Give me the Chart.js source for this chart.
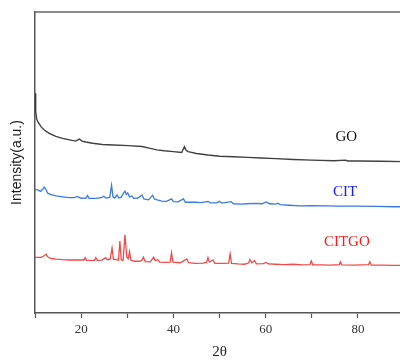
<!DOCTYPE html>
<html>
<head>
<meta charset="utf-8">
<script src="https://cdn.jsdelivr.net/npm/chart.js@4/dist/chart.umd.min.js"></script>
<style>
html,body{margin:0;padding:0;overflow:hidden;background:#fff;width:400px;height:360px;}
#wrap{width:408px;height:360px;position:relative;}
</style>
</head>
<body>
<div id="wrap"><canvas id="c" width="408" height="360"></canvas></div>
<script>
// 2θ positions and intensities (a.u., arbitrary offset scale 0-100)
const goX = [10.0,10.15,10.35,10.7,11.3,12.0,13.1,14.5,16.0,17.5,18.8,19.6,20.2,21.0,22.5,24.6,27.0,30.3,33.2,35.0,36.4,38.0,40.0,41.8,42.4,42.8,43.2,45.0,47.5,50.0,53.0,56.1,59.0,62.2,66.0,70.0,74.8,77.3,77.8,80.0,85.0,90.0];
const goY = [73.0,67.0,64.5,63.3,61.9,60.8,59.7,58.7,58.0,57.5,57.1,57.8,57.1,56.8,56.4,56.0,55.8,55.6,55.3,54.7,54.2,53.9,53.6,53.3,55.3,54.0,53.6,53.0,52.5,52.1,51.9,51.7,51.5,51.3,51.0,50.8,50.6,50.8,50.5,50.5,50.4,50.3];

const citX = [10.0,10.6,11.2,11.7,12.0,12.4,12.75,13.5,14.6,16.0,17.4,18.5,19.2,19.8,21.0,21.4,21.7,23.2,24.4,24.9,25.4,26.2,26.6,26.9,27.3,27.8,28.2,28.7,29.2,29.5,29.8,30.1,30.5,31.0,31.4,32.3,33.2,33.6,34.6,35.5,35.9,36.5,37.5,38.5,39.6,40.0,41.0,42.2,42.6,44.7,46.0,47.5,48.0,49.4,50.0,50.5,52.5,53.0,54.7,56.0,57.5,59.2,60.1,60.8,62.2,62.6,63.2,65.0,67.5,70.0,73.0,76.0,80.0,84.0,88.0,90.0];
const citY = [41.0,40.9,40.4,41.2,41.8,41.0,39.8,39.3,38.9,38.6,38.3,38.3,38.7,38.2,38.1,39.0,38.1,38.1,38.3,38.8,38.2,38.4,42.4,38.6,38.2,39.2,38.2,38.5,39.8,40.5,39.4,39.9,38.6,38.9,38.1,38.2,39.2,37.9,37.6,39.1,37.9,37.6,37.2,37.1,37.9,37.0,36.9,37.9,36.8,36.8,36.7,37.1,36.6,36.6,37.1,36.5,37.0,36.3,36.2,36.3,36.4,36.3,36.9,36.3,36.2,36.5,36.0,35.8,35.6,35.7,35.6,35.5,35.5,35.4,35.3,35.3];

const citgoX = [10.0,11.3,12.0,12.4,12.8,13.5,14.6,16.0,17.4,19.0,20.6,20.9,21.2,22.9,23.2,23.5,24.5,25.3,25.7,26.3,26.7,27.0,27.6,28.1,28.4,28.7,29.1,29.5,29.9,30.2,30.5,30.8,31.5,32.5,33.1,33.5,33.9,35.0,35.7,36.1,36.6,37.0,38.5,39.3,39.6,39.9,41.5,42.9,43.3,44.7,46.5,47.2,47.5,47.8,48.6,49.0,51.0,52.0,52.3,52.6,54.0,55.4,56.3,56.6,57.0,57.6,58.0,59.5,60.1,60.6,62.2,64.0,66.0,68.0,69.6,69.9,70.2,72.0,74.0,76.0,76.2,76.5,79.0,82.3,82.6,82.9,85.0,88.0,90.0];
const citgoY = [18.5,18.5,19.0,19.5,18.6,18.1,17.9,17.7,17.6,17.6,17.6,18.4,17.5,17.5,18.4,17.5,17.6,18.4,17.7,17.9,21.6,17.8,17.8,17.5,23.9,17.7,17.5,26.0,18.6,18.0,20.4,17.5,17.2,17.2,17.4,18.5,17.1,17.0,18.5,17.4,17.7,16.9,16.8,16.9,20.0,16.9,16.7,18.0,16.7,16.5,16.6,16.8,18.4,16.9,17.6,16.5,16.5,16.6,19.6,16.5,16.3,16.2,16.6,17.8,16.7,17.4,16.3,16.4,16.8,16.3,16.2,16.1,16.2,16.0,16.1,17.3,16.0,16.0,15.9,16.1,17.0,16.0,15.9,16.1,17.0,15.9,15.9,15.8,15.8];

const seriesNames = ['GO','CIT','CITGO'];
const lineColors = ['#404040','#3a7ae6','#f04a4a'];
const labelColors = ['#111111','#1a1aff','#ff1a1a'];
const labelAt = [[77.5,58.5],[77.2,40.3],[77.6,23.7]];
const xTickLabels = [20,40,60,80];

function pts(xs, ys){ return xs.map((x,i)=>({x:x,y:ys[i]})); }

const serif = 'Liberation Serif, Times New Roman, serif';

const overlay = {
  id:'overlay',
  afterDraw(chart){
    const {ctx, chartArea, scales} = chart;
    ctx.save();
    ctx.strokeStyle = '#666';
    ctx.lineWidth = 1.5;
    ctx.beginPath();
    ctx.moveTo(chartArea.left, chartArea.top);
    ctx.lineTo(chartArea.right, chartArea.top);
    ctx.stroke();
    ctx.font = '15px ' + serif;
    ctx.textAlign = 'center';
    ctx.textBaseline = 'middle';
    seriesNames.forEach((n,i)=>{
      ctx.fillStyle = labelColors[i];
      ctx.fillText(n, scales.x.getPixelForValue(labelAt[i][0]), scales.y.getPixelForValue(labelAt[i][1]));
    });
    ctx.restore();
  }
};

new Chart(document.getElementById('c'), {
  type:'line',
  data:{
    datasets:[
      {label:'GO', data:pts(goX,goY), borderColor:lineColors[0], borderWidth:1.4},
      {label:'CIT', data:pts(citX,citY), borderColor:lineColors[1], borderWidth:1.3},
      {label:'CITGO', data:pts(citgoX,citgoY), borderColor:lineColors[2], borderWidth:1.3}
    ]
  },
  options:{
    responsive:false,
    animation:false,
    elements:{point:{radius:0}, line:{tension:0}},
    layout:{padding:{top:12,right:0,bottom:0,left:0}},
    plugins:{legend:{display:false}, tooltip:{enabled:false}},
    scales:{
      x:{
        type:'linear', min:10, max:90,
        afterFit(s){ s.height = 47; },
        border:{color:'#555', width:1.5},
        grid:{drawOnChartArea:false, drawTicks:true, tickLength:5, tickColor:'#555', tickWidth:1.2},
        ticks:{
          stepSize:10, autoSkip:false, maxRotation:0, padding:4, color:'#333',
          font:{family:serif, size:13},
          callback(v){ return xTickLabels.includes(v) ? String(v) : ''; }
        },
        title:{display:true, text:'2θ', color:'#222', font:{family:serif, size:15, lineHeight:1.0}, padding:{top:0,bottom:0}}
      },
      y:{
        min:0, max:100,
        afterFit(s){ s.width = 35; },
        border:{color:'#555', width:1.5},
        grid:{display:false, drawTicks:false},
        ticks:{display:false},
        title:{display:true, text:'Intensity(a.u.)', color:'#1a1a1a', font:{family:'Liberation Sans, Arial, sans-serif', size:14}, padding:{top:9,bottom:0}}
      }
    }
  },
  plugins:[overlay]
});
</script>
</body>
</html>
